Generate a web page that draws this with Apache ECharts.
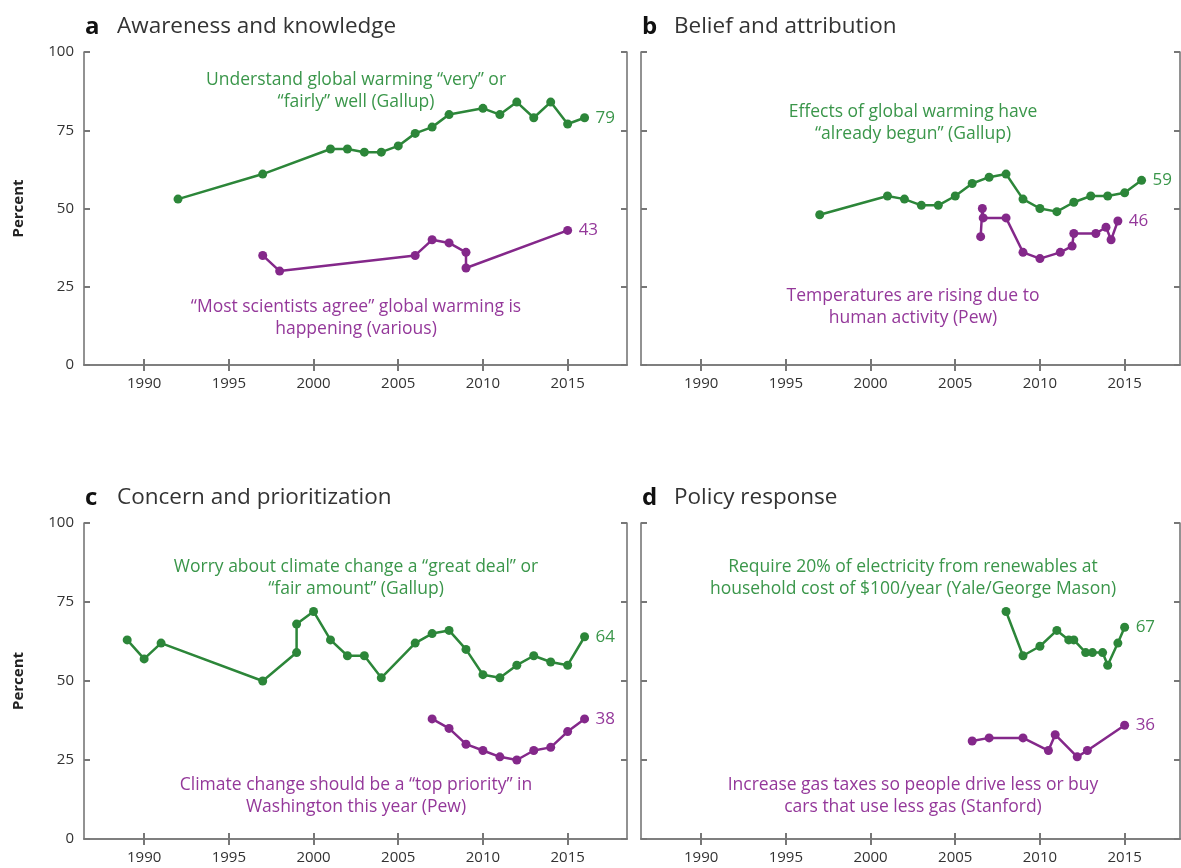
<!DOCTYPE html>
<html style="height: 100%">
<head>
<meta charset="utf-8">
</head>
<body style="height: 100%; margin: 0; background: #fff">
<div id="container" style="width: 1181px; height: 868px"></div>
<script type="text/javascript" src="https://cdn.jsdelivr.net/npm/echarts@6/dist/echarts.min.js"></script>
<script type="text/javascript">
// ---- data: [year, percent] ----
var aGreen = [[1992,53],[1997,61],[2001,69],[2002,69],[2003,68],[2004,68],[2005,70],[2006,74],[2007,76],[2008,80],[2010,82],[2011,80],[2012,84],[2013,79],[2014,84],[2015,77],[2016,79]];
var aPurple = [[1997,35],[1998,30],[2006,35],[2007,40],[2008,39],[2009,36],[2009,31],[2015,43]];

var bGreen = [[1997,48],[2001,54],[2002,53],[2003,51],[2004,51],[2005,54],[2006,58],[2007,60],[2008,61],[2009,53],[2010,50],[2011,49],[2012,52],[2013,54],[2014,54],[2015,55],[2016,59]];
var bPurple = [[2006.5,41],[2006.6,50],[2006.65,47],[2008,47],[2009,36],[2010,34],[2011.2,36],[2011.9,38],[2012,42],[2013.3,42],[2013.9,44],[2014.2,40],[2014.6,46]];

var cGreen = [[1989,63],[1990,57],[1991,62],[1997,50],[1999,59],[1999,68],[2000,72],[2001,63],[2002,58],[2003,58],[2004,51],[2006,62],[2007,65],[2008,66],[2009,60],[2010,52],[2011,51],[2012,55],[2013,58],[2014,56],[2015,55],[2016,64]];
var cPurple = [[2007,38],[2008,35],[2009,30],[2010,28],[2011,26],[2012,25],[2013,28],[2014,29],[2015,34],[2016,38]];

var dGreen = [[2008,72],[2009,58],[2010,61],[2011,66],[2011.7,63],[2012,63],[2012.7,59],[2013.1,59],[2013.7,59],[2014,55],[2014.6,62],[2015,67]];
var dPurple = [[2006,31],[2007,32],[2009,32],[2010.5,28],[2010.9,33],[2012.2,26],[2012.8,28],[2015,36]];

var yearTicks = [1990, 1995, 2000, 2005, 2010, 2015];
var panelLetters = ['a', 'b', 'c', 'd'];
var panelTitles = ['Awareness and knowledge', 'Belief and attribution', 'Concern and prioritization', 'Policy response'];
var greenNotes = [
    ['Understand global warming \u201cvery\u201d or', '\u201cfairly\u201d well (Gallup)'],
    ['Effects of global warming have', '\u201calready begun\u201d (Gallup)'],
    ['Worry about climate change a \u201cgreat deal\u201d or', '\u201cfair amount\u201d (Gallup)'],
    ['Require 20% of electricity from renewables at', 'household cost of $100/year (Yale/George Mason)']
];
var purpleNotes = [
    ['\u201cMost scientists agree\u201d global warming is', 'happening (various)'],
    ['Temperatures are rising due to', 'human activity (Pew)'],
    ['Climate change should be a \u201ctop priority\u201d in', 'Washington this year (Pew)'],
    ['Increase gas taxes so people drive less or buy', 'cars that use less gas (Stanford)']
];

var GREEN = '#2c8639', GREEN_TXT = '#3a964a';
var PURPLE = '#84288a', PURPLE_TXT = '#94389a';
var AXIS = '#777777';
var FONT = 'Open Sans';

var dom = document.getElementById('container');
var myChart = echarts.init(dom, null, {renderer: 'canvas'});

var grids = [
    {left: 84, top: 52, width: 543, height: 313},
    {left: 641, top: 52, width: 539, height: 313},
    {left: 84, top: 523, width: 543, height: 316},
    {left: 641, top: 523, width: 539, height: 316}
];
var xMin = 1986.45, pxPerYear = 16.94;

var xAxes = [], yAxes = [], series = [], graphics = [];
var lineLook = function (color, txtColor, gi, data) {
    return {
        type: 'line',
        xAxisIndex: gi * 2,
        yAxisIndex: gi * 2,
        data: data,
        symbol: 'circle',
        symbolSize: 9,
        showAllSymbol: true,
        lineStyle: {color: color, width: 2.5},
        itemStyle: {color: color},
        endLabel: {
            show: true,
            distance: 11,
            color: txtColor,
            fontFamily: FONT,
            fontSize: 17,
            formatter: function (p) { return p.value[1]; }
        },
        animation: false,
        silent: true
    };
};

var allData = [[aGreen, aPurple], [bGreen, bPurple], [cGreen, cPurple], [dGreen, dPurple]];

// centre of first annotation line, per panel
var greenY = [80, 112, 567, 567];
var purpleY = [307, 296, 785, 785];

grids.forEach(function (g, gi) {
    var xMax = xMin + g.width / pxPerYear;
    var leftCol = (gi % 2 === 0);
    var axisLine = {show: true, lineStyle: {color: AXIS, width: 1.6}};
    var tick = {show: true, inside: true, length: 6, lineStyle: {color: AXIS, width: 2}};
    xAxes.push({
        type: 'value', gridIndex: gi, position: 'bottom', min: xMin, max: xMax,
        axisLine: axisLine,
        axisTick: Object.assign({customValues: yearTicks}, tick),
        axisLabel: {
            customValues: yearTicks, margin: 11, color: '#333', fontFamily: FONT, fontSize: 15,
            formatter: function (v) { return String(v); }
        },
        splitLine: {show: false}
    });
    xAxes.push({
        type: 'value', gridIndex: gi, position: 'top', min: xMin, max: xMax,
        axisLine: axisLine,
        axisTick: Object.assign({customValues: yearTicks}, tick),
        axisLabel: {show: false, customValues: yearTicks},
        splitLine: {show: false}
    });
    yAxes.push({
        type: 'value', gridIndex: gi, position: 'left', min: 0, max: 100, interval: 25,
        name: leftCol ? 'Percent' : '',
        nameLocation: 'middle', nameGap: 58, nameRotate: 90,
        nameTextStyle: {fontFamily: FONT, fontWeight: 'bold', fontSize: 15, color: '#222'},
        axisLine: axisLine, axisTick: tick,
        axisLabel: {show: leftCol, margin: 10, color: '#333', fontFamily: FONT, fontSize: 15},
        splitLine: {show: false}
    });
    yAxes.push({
        type: 'value', gridIndex: gi, position: 'right', min: 0, max: 100, interval: 25,
        axisLine: axisLine, axisTick: tick,
        axisLabel: {show: false},
        splitLine: {show: false}
    });

    series.push(lineLook(GREEN, GREEN_TXT, gi, allData[gi][0]));
    series.push(lineLook(PURPLE, PURPLE_TXT, gi, allData[gi][1]));

    // panel heading
    graphics.push({
        type: 'text', left: g.left + 1, top: g.top - 37,
        style: {
            text: '{l|' + panelLetters[gi] + '}{t|' + panelTitles[gi] + '}',
            rich: {
                l: {fontFamily: FONT, fontWeight: 'bold', fontSize: 24, fill: '#111', width: 32},
                t: {fontFamily: FONT, fontSize: 22.5, fill: '#333'}
            }
        }
    });
    // annotations
    var cx = g.left + 272;
    graphics.push({
        type: 'text', x: cx, y: greenY[gi] - 11,
        style: {
            text: greenNotes[gi].join('\n'), align: 'center', verticalAlign: 'top',
            fontFamily: FONT, fontSize: 17.5, lineHeight: 22, fill: GREEN_TXT
        }
    });
    graphics.push({
        type: 'text', x: cx, y: purpleY[gi] - 11,
        style: {
            text: purpleNotes[gi].join('\n'), align: 'center', verticalAlign: 'top',
            fontFamily: FONT, fontSize: 17.5, lineHeight: 22, fill: PURPLE_TXT
        }
    });
});

var option = {
    backgroundColor: '#fff',
    animation: false,
    grid: grids,
    xAxis: xAxes,
    yAxis: yAxes,
    series: series,
    graphic: graphics
};

if (option && typeof option === 'object') {
    myChart.setOption(option);
}
</script>
</body>
</html>
